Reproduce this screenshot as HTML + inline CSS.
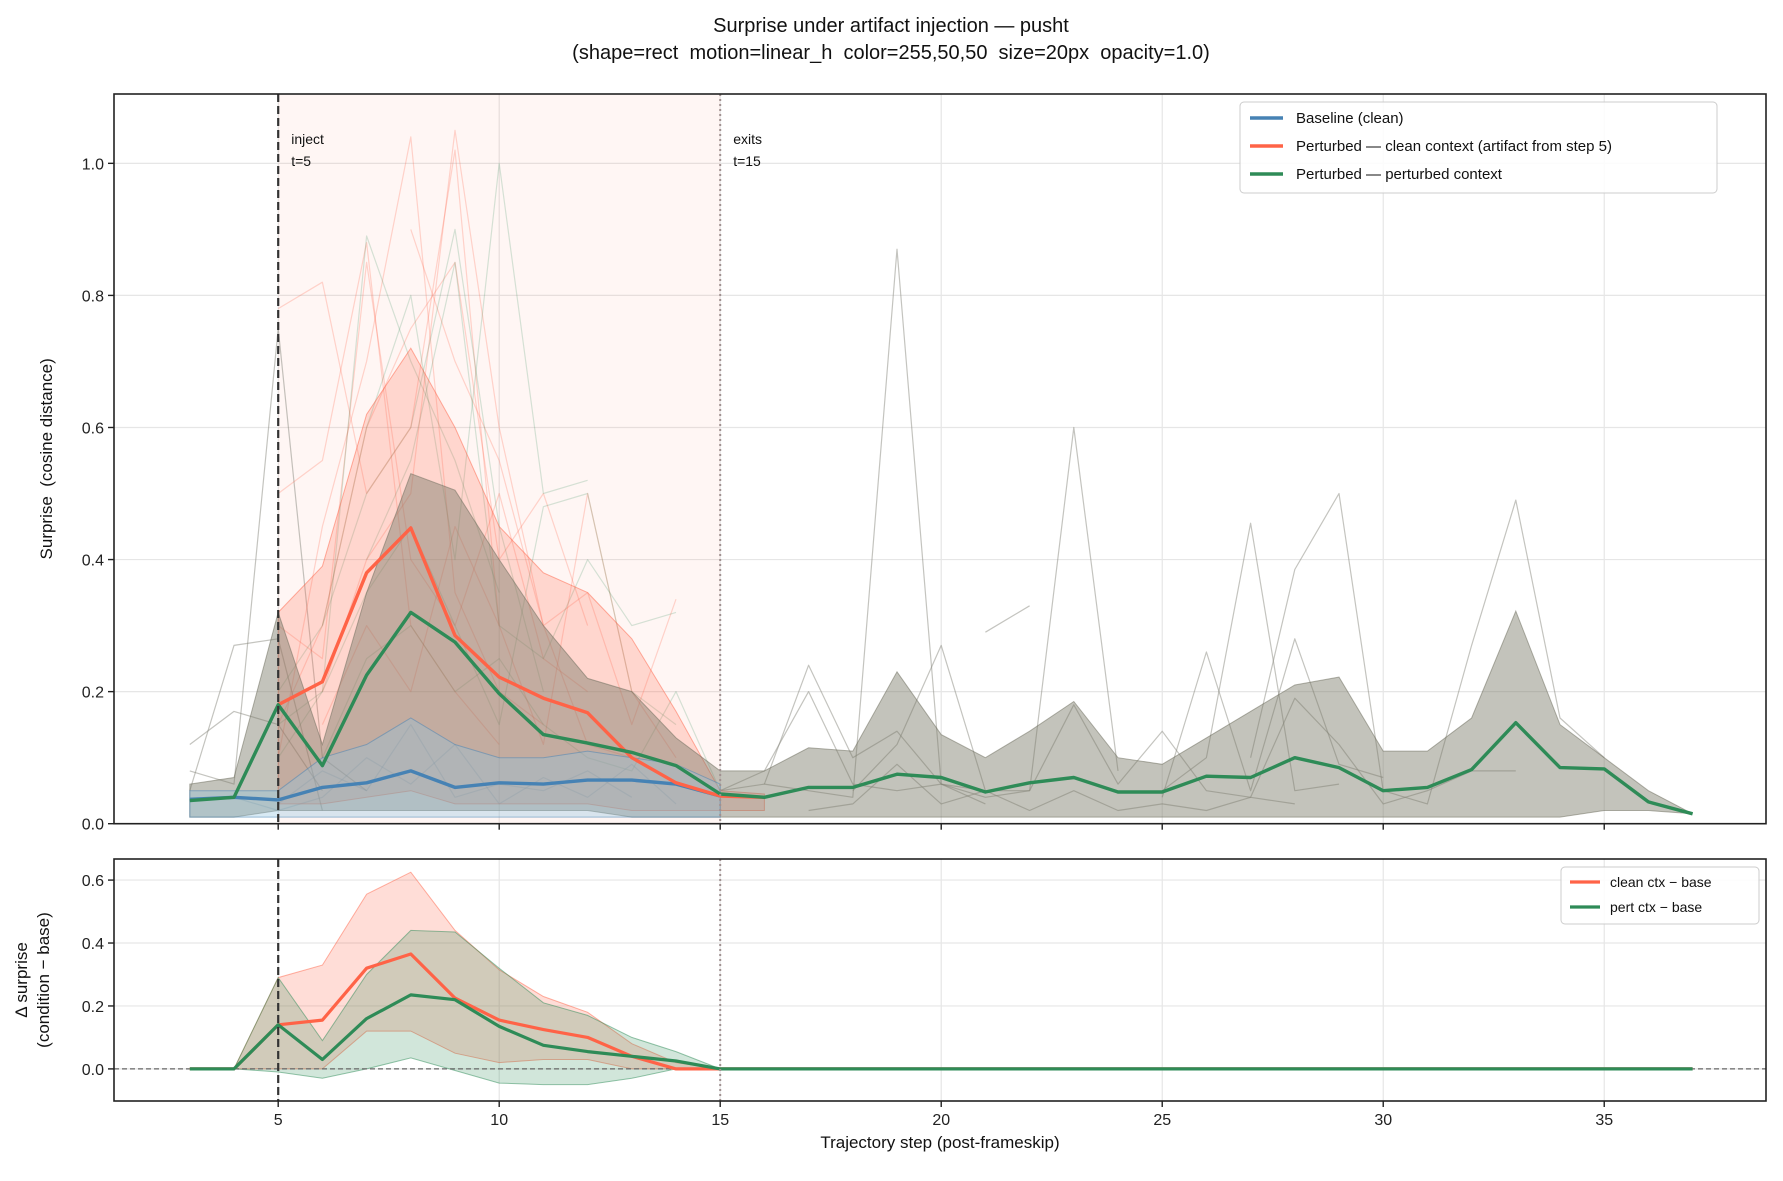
<!DOCTYPE html>
<html><head><meta charset="utf-8"><style>
html,body{margin:0;padding:0;background:#fff}
svg{display:block;font-family:"Liberation Sans","DejaVu Sans",sans-serif}
</style></head><body>
<svg id="chart" width="1783" height="1181" viewBox="0 0 1783 1181" xmlns="http://www.w3.org/2000/svg">
<text x="891" y="32" text-anchor="middle" font-size="20" fill="#111">Surprise under artifact injection — pusht</text>
<text x="891" y="59" text-anchor="middle" font-size="20" fill="#111" style="white-space:pre">(shape=rect  motion=linear_h  color=255,50,50  size=20px  opacity=1.0)</text>
<g id="topPanel"></g>
<g id="botPanel"></g>
</svg>
<script>
const steps=[3,4,5,6,7,8,9,10,11,12,13,14,15,16,17,18,19,20,21,22,23,24,25,26,27,28,29,30,31,32,33,34,35,36,37];
const baseSteps=[3,4,5,6,7,8,9,10,11,12,13,14,15];
const baseMean=[0.037,0.04,0.036,0.055,0.062,0.08,0.055,0.062,0.06,0.066,0.066,0.06,0.042];
const baseHi=[0.05,0.05,0.05,0.1,0.12,0.16,0.12,0.1,0.1,0.11,0.1,0.09,0.06];
const baseLo=[0.01,0.01,0.01,0.01,0.01,0.01,0.01,0.01,0.01,0.01,0.01,0.01,0.01];
const cleanSteps=[5,6,7,8,9,10,11,12,13,14,15,16];
const cleanMean=[0.18,0.215,0.38,0.448,0.285,0.222,0.19,0.168,0.1,0.062,0.042,0.04];
const cleanHi=[0.32,0.39,0.62,0.72,0.6,0.45,0.38,0.35,0.28,0.17,0.05,0.045];
const cleanLo=[0.03,0.03,0.04,0.05,0.03,0.03,0.03,0.03,0.02,0.02,0.02,0.02];
const pertMean=[0.035,0.04,0.18,0.088,0.225,0.32,0.275,0.197,0.135,0.122,0.108,0.088,0.045,0.04,0.055,0.055,0.075,0.07,0.048,0.062,0.07,0.048,0.048,0.072,0.07,0.1,0.085,0.05,0.055,0.082,0.153,0.085,0.083,0.033,0.015];
const pertHi=[0.06,0.07,0.32,0.12,0.35,0.53,0.505,0.4,0.3,0.22,0.2,0.13,0.08,0.08,0.115,0.11,0.23,0.135,0.1,0.14,0.185,0.1,0.09,0.13,0.17,0.21,0.222,0.11,0.11,0.16,0.322,0.15,0.1,0.05,0.015];
const pertLo=[0.01,0.01,0.02,0.02,0.02,0.02,0.02,0.02,0.02,0.02,0.01,0.01,0.01,0.01,0.01,0.01,0.01,0.01,0.01,0.01,0.01,0.01,0.01,0.01,0.01,0.01,0.01,0.01,0.01,0.01,0.01,0.01,0.02,0.02,0.015];
const grayRuns=[
 [[15,0.05],[16,0.06],[17,0.05],[18,0.04],[19,0.87],[20,0.06],[21,0.04],[22,0.05]],
 [[18,0.05],[19,0.12],[20,0.27],[21,0.05],[22,0.05],[23,0.6],[24,0.08]],
 [[21,0.29],[22,0.33]],
 [[25,0.05],[26,0.1],[27,0.455],[28,0.05],[29,0.06]],
 [[27,0.1],[28,0.385],[29,0.5],[30,0.05],[31,0.03],[32,0.27],[33,0.49],[34,0.16],[35,0.1]],
 [[16,0.06],[17,0.24],[18,0.1],[19,0.14],[20,0.06],[21,0.05]],
 [[15,0.05],[16,0.08],[17,0.2],[18,0.06],[19,0.05],[20,0.06],[21,0.03]],
 [[25,0.04],[26,0.26],[27,0.05],[28,0.28],[29,0.09],[30,0.07]],
 [[3,0.05],[4,0.27],[5,0.28],[6,0.02]],
 [[3,0.12],[4,0.17],[5,0.15],[6,0.05]],
 [[3,0.08],[4,0.06],[5,0.75],[6,0.1],[7,0.05]],
 [[22,0.05],[23,0.18],[24,0.06],[25,0.14],[26,0.05],[27,0.04],[28,0.19],[29,0.12],[30,0.03],[31,0.05],[32,0.08],[33,0.08]],
 [[17,0.02],[18,0.03],[19,0.09],[20,0.03],[21,0.05],[22,0.02],[23,0.05],[24,0.02],[25,0.03],[26,0.02],[27,0.04],[28,0.03]]
];
const redRuns=[
 [[5,0.5],[6,0.55],[7,0.88],[8,0.3],[9,0.2],[10,0.12]],
 [[5,0.78],[6,0.82],[7,0.5],[8,0.6],[9,1.02],[10,0.3]],
 [[5,0.1],[6,0.45],[7,0.7],[8,1.04],[9,0.35],[10,0.2],[11,0.15]],
 [[5,0.15],[6,0.3],[7,0.6],[8,0.75],[9,0.85],[10,0.4],[11,0.5],[12,0.3]],
 [[6,0.2],[7,0.4],[8,0.5],[9,1.05],[10,0.6],[11,0.3],[12,0.35],[13,0.15],[14,0.34]],
 [[5,0.3],[6,0.25],[7,0.85],[8,0.4],[9,0.3],[10,0.5],[11,0.25],[12,0.2]],
 [[8,0.9],[9,0.7],[10,0.55],[11,0.3],[12,0.12],[13,0.1]],
 [[6,0.15],[7,0.3],[8,0.2],[9,0.45],[10,0.3],[11,0.12],[12,0.5],[13,0.2],[14,0.1]]
];
const greenRuns=[
 [[5,0.1],[6,0.2],[7,0.89],[8,0.7],[9,0.55],[10,0.35]],
 [[6,0.3],[7,0.5],[8,0.6],[9,0.9],[10,0.45],[11,0.2]],
 [[5,0.2],[6,0.3],[7,0.6],[8,0.8],[9,0.4],[10,1.0],[11,0.5],[12,0.52]],
 [[7,0.4],[8,0.55],[9,0.85],[10,0.3],[11,0.25],[12,0.4],[13,0.3],[14,0.32]],
 [[5,0.15],[6,0.2],[7,0.35],[8,0.45],[9,0.3],[10,0.15],[11,0.48],[12,0.5],[13,0.2],[14,0.15]],
 [[6,0.1],[7,0.25],[8,0.3],[9,0.2],[10,0.25],[11,0.15],[12,0.1],[13,0.08],[14,0.2],[15,0.05]]
];
const blueRuns=[
 [[5,0.03],[6,0.08],[7,0.05],[8,0.15],[9,0.04],[10,0.06],[11,0.05],[12,0.08],[13,0.04]],
 [[4,0.04],[5,0.02],[6,0.04],[7,0.1],[8,0.06],[9,0.12],[10,0.03],[11,0.07],[12,0.04],[13,0.09],[14,0.03]]
];
const deltaSteps=[3,4,5,6,7,8,9,10,11,12,13,14,15,16,17,18,19,20,21,22,23,24,25,26,27,28,29,30,31,32,33,34,35,36,37];
const dCleanMean=[0,0,0.14,0.155,0.32,0.365,0.225,0.155,0.125,0.1,0.04,0,0,0,0,0,0,0,0,0,0,0,0,0,0,0,0,0,0,0,0,0,0,0,0];
const dCleanHi=[0,0,0.29,0.33,0.555,0.625,0.44,0.315,0.23,0.18,0.08,0.02,0];
const dCleanLo=[0,0,0.0,0.0,0.12,0.12,0.05,0.02,0.03,0.03,0,0,0];
const dPertMean=[0,0,0.14,0.03,0.16,0.235,0.22,0.135,0.075,0.055,0.04,0.025,0,0,0,0,0,0,0,0,0,0,0,0,0,0,0,0,0,0,0,0,0,0,0];
const dPertHi=[0,0,0.29,0.09,0.3,0.44,0.435,0.32,0.21,0.17,0.1,0.055,0];
const dPertLo=[0,0,-0.01,-0.03,0.0,0.035,-0.005,-0.045,-0.05,-0.05,-0.03,0.0,0];
const xTicks=[5,10,15,20,25,30,35];
const topYTicks=[0,0.2,0.4,0.6,0.8,1.0];
const botYTicks=[0,0.2,0.4,0.6];

const NS='http://www.w3.org/2000/svg';
const L=114,R=1766;
const X=v=>L+(v-1.285)/(38.66-1.285)*(R-L);
const T0=94,T1=823.7,tMin=0,tMax=1.105;
const YT=v=>T1-(v-tMin)/(tMax-tMin)*(T1-T0);
const B0=859,B1=1101,bMin=-0.102,bMax=0.667;
const YB=v=>B1-(v-bMin)/(bMax-bMin)*(B1-B0);
function mk(p,tag,at){const e=document.createElementNS(NS,tag);for(const k in at)e.setAttribute(k,at[k]);p.appendChild(e);return e;}
function pts(xs,ys,Y){return xs.map((x,i)=>X(x).toFixed(1)+','+Y(ys[i]).toFixed(1)).join(' ');}
function band(p,xs,hi,lo,Y,fill,op,stroke,name){
 const d=pts(xs,hi,Y)+' '+pts(xs.slice().reverse(),lo.slice().reverse(),Y);
 const e=mk(p,'polygon',{points:d,fill:fill,'fill-opacity':op,stroke:stroke,'stroke-opacity':0.5,'stroke-width':1});
 
 
}
function line(p,xs,ys,Y,col,w,name,op){
 const e=mk(p,'polyline',{points:pts(xs,ys,Y),fill:'none',stroke:col,'stroke-width':w,'stroke-opacity':op||1,'stroke-linejoin':'round'});
 
 
}
function grid(p,Y0,Y1,Y,yt){
 const gridG=mk(p,'g',{});
 xTicks.forEach(t=>mk(gridG,'line',{x1:X(t),x2:X(t),y1:Y0,y2:Y1,stroke:'#e6e6e6','stroke-width':1.2}));
 yt.forEach(t=>mk(gridG,'line',{x1:L,x2:R,y1:Y(t),y2:Y(t),stroke:'#e6e6e6','stroke-width':1.2}));
}
function frame(p,Y0,Y1,Y,yt,showX){
 const f=mk(p,'rect',{x:L,y:Y0,width:R-L,height:Y1-Y0,fill:'none',stroke:'#222','stroke-width':1.6});
 
 
 xTicks.forEach(t=>{mk(p,'line',{x1:X(t),x2:X(t),y1:Y1,y2:Y1+6,stroke:'#222','stroke-width':1.4});
  if(showX){const tx=mk(p,'text',{x:X(t),y:Y1+24,'text-anchor':'middle','font-size':16,fill:'#222'});tx.textContent=t;
   
   }});
 yt.forEach(t=>{mk(p,'line',{x1:L-6,x2:L,y1:Y(t),y2:Y(t),stroke:'#222','stroke-width':1.4});
  const tx=mk(p,'text',{x:L-10,y:Y(t)+6,'text-anchor':'end','font-size':16,fill:'#222'});tx.textContent=t.toFixed(1);
  
  });
}
const topG=document.getElementById('topPanel'),botG=document.getElementById('botPanel');
grid(topG,T0,T1,YT,topYTicks);
const sh=mk(topG,'rect',{x:X(5),y:T0,width:X(15)-X(5),height:T1-T0,fill:'#ff6347','fill-opacity':0.06});


grayRuns.forEach(r=>line(topG,r.map(a=>a[0]),r.map(a=>a[1]),YT,'#8a8a80',1.2,'trajectory-gray',0.5));
redRuns.forEach(r=>line(topG,r.map(a=>a[0]),r.map(a=>a[1]),YT,'#ff6347',1.2,'trajectory-clean',0.25));
greenRuns.forEach(r=>line(topG,r.map(a=>a[0]),r.map(a=>a[1]),YT,'#2e8b57',1.2,'trajectory-pert',0.2));
blueRuns.forEach(r=>line(topG,r.map(a=>a[0]),r.map(a=>a[1]),YT,'#4682b4',1.2,'trajectory-base',0.25));
band(topG,cleanSteps,cleanHi,cleanLo,YT,'#ff6347',0.22,'#ff6347','clean-band');
band(topG,steps,pertHi,pertLo,YT,'#7a7a68',0.45,'#6a6a5a','pert-band');
band(topG,baseSteps,baseHi,baseLo,YT,'#8fc3e0',0.35,'#4682b4','base-band');
line(topG,baseSteps,baseMean,YT,'#4682b4',3.4,'baseline-mean');
line(topG,cleanSteps,cleanMean,YT,'#ff6347',3.4,'clean-ctx-mean');
line(topG,steps,pertMean,YT,'#2e8b57',3.4,'pert-ctx-mean');
mk(topG,'line',{x1:X(5),x2:X(5),y1:T0,y2:T1,stroke:'#333','stroke-width':2.2,'stroke-dasharray':'8,4'});
mk(topG,'line',{x1:X(15),x2:X(15),y1:T0,y2:T1,stroke:'#a09090','stroke-width':2,'stroke-dasharray':'2,3'});
[['inject','t=5',5],['exits','t=15',15]].forEach(a=>{
 const t=mk(topG,'text',{x:X(a[2])+13,y:144,'font-size':14,fill:'#111'});t.textContent=a[0];
 
 
 const t2=mk(topG,'text',{x:X(a[2])+13,y:166,'font-size':14,fill:'#111'});t2.textContent=a[1];
 
 });
frame(topG,T0,T1,YT,topYTicks,false);
const yl=mk(topG,'text',{x:0,y:0,'font-size':17,'text-anchor':'middle',fill:'#111',style:'white-space:pre',transform:`translate(52,${(T0+T1)/2}) rotate(-90)`});
yl.textContent='Surprise  (cosine distance)';


const lg=mk(topG,'g',{});


mk(lg,'rect',{x:1240,y:102,width:477,height:91,rx:4,fill:'#fff','fill-opacity':0.85,stroke:'#ccc'});
[['Baseline (clean)','#4682b4'],['Perturbed — clean context (artifact from step 5)','#ff6347'],['Perturbed — perturbed context','#2e8b57']].forEach((a,i)=>{
 const y=118+i*28;
 const ln=mk(lg,'line',{x1:1250,x2:1283,y1:y,y2:y,stroke:a[1],'stroke-width':3.4});
 
 
 const t=mk(lg,'text',{x:1296,y:y+5,'font-size':15,fill:'#111'});t.textContent=a[0];
 
 });
grid(botG,B0,B1,YB,botYTicks);
const bs=deltaSteps.slice(0,13);
band(botG,bs,dCleanHi,dCleanLo,YB,'#ff6347',0.22,'#ff6347','delta-clean-band');
band(botG,bs,dPertHi,dPertLo,YB,'#2e8b57',0.22,'#2e8b57','delta-pert-band');
mk(botG,'line',{x1:L,x2:R,y1:YB(0),y2:YB(0),stroke:'#666','stroke-width':1.2,'stroke-dasharray':'5,3'});
line(botG,deltaSteps,dCleanMean,YB,'#ff6347',3.2,'delta-clean-mean');
line(botG,deltaSteps,dPertMean,YB,'#2e8b57',3.2,'delta-pert-mean');
mk(botG,'line',{x1:X(5),x2:X(5),y1:B0,y2:B1,stroke:'#333','stroke-width':2.2,'stroke-dasharray':'8,4'});
mk(botG,'line',{x1:X(15),x2:X(15),y1:B0,y2:B1,stroke:'#a09090','stroke-width':2,'stroke-dasharray':'2,3'});
frame(botG,B0,B1,YB,botYTicks,true);
const y2=mk(botG,'text',{x:0,y:0,'font-size':17,'text-anchor':'middle',fill:'#111',transform:`translate(27,${(B0+B1)/2}) rotate(-90)`});
y2.textContent='Δ surprise';


const y3=mk(botG,'text',{x:0,y:0,'font-size':17,'text-anchor':'middle',fill:'#111',transform:`translate(49,${(B0+B1)/2}) rotate(-90)`});
y3.textContent='(condition − base)';


const xl=mk(botG,'text',{x:(L+R)/2,y:1148,'font-size':17,'text-anchor':'middle',fill:'#111'});
xl.textContent='Trajectory step (post-frameskip)';


const lg2=mk(botG,'g',{});


mk(lg2,'rect',{x:1561,y:867,width:198,height:57,rx:4,fill:'#fff','fill-opacity':0.85,stroke:'#ccc'});
[['clean ctx − base','#ff6347'],['pert ctx − base','#2e8b57']].forEach((a,i)=>{
 const y=882+i*25;
 const ln=mk(lg2,'line',{x1:1570,x2:1600,y1:y,y2:y,stroke:a[1],'stroke-width':3.2});
 
 
 const t=mk(lg2,'text',{x:1610,y:y+5,'font-size':14,fill:'#111'});t.textContent=a[0];
 
 });
</script>
</body></html>
